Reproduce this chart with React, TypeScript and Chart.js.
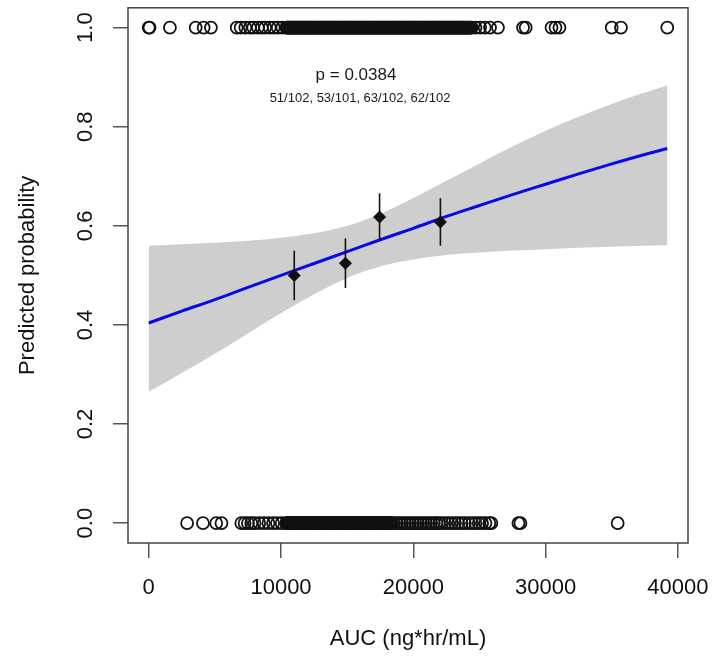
import React, { useEffect, useRef } from "react";
import { Chart, registerables } from "chart.js";

Chart.register(...registerables);

// Axis ticks
const xTicks = [0, 10000, 20000, 30000, 40000];
const yTicks = [0, 0.2, 0.4, 0.6, 0.8, 1.0];

// Fitted logistic curve (AUC -> predicted probability) with 95% band
const fitAuc = [0, 2500, 5000, 7500, 10000, 12500, 15000, 17500, 20000, 22500, 25000, 27500, 30000, 32500, 35000, 37500, 39200];
const fitProb = [0.404, 0.428, 0.451, 0.476, 0.5, 0.524, 0.548, 0.572, 0.595, 0.619, 0.641, 0.663, 0.684, 0.705, 0.725, 0.744, 0.756];
const ciUpper = [0.56, 0.563, 0.566, 0.57, 0.576, 0.585, 0.6, 0.624, 0.656, 0.691, 0.726, 0.76, 0.792, 0.82, 0.846, 0.869, 0.883];
const ciLower = [0.265, 0.303, 0.342, 0.383, 0.424, 0.462, 0.495, 0.518, 0.532, 0.541, 0.546, 0.55, 0.553, 0.556, 0.558, 0.56, 0.561];

// Quartile bins: mean AUC, responders / patients, standard error
const binAuc = [11000, 14870, 17450, 22050];
const binEvents = [51, 53, 63, 62];
const binTotals = [102, 101, 102, 102];
const binSE = [0.05, 0.05, 0.048, 0.048];

// Individual patients: outcome = 1
const respondersAuc = [
  0, 60, 1600, 3550, 4150, 4700,
  6650, 6950, 7300, 7650, 7900, 8250, 8550, 8800, 9150, 9450, 9750, 10100,
  10400, 10460, 10540, 10590, 10670, 10740, 10790, 10870, 10930,
  11010, 11060, 11140, 11220, 11270, 11350, 11410, 11480, 11560, 11610, 11690, 11770, 11820, 11900, 11960,
  12030, 12110, 12160, 12240, 12310, 12370, 12450, 12520, 12580, 12660, 12720, 12790, 12870, 12930,
  13000, 13080, 13140, 13210, 13290, 13350, 13420, 13500, 13560, 13630, 13710, 13770, 13840, 13920, 13980,
  14050, 14120, 14190, 14260, 14320, 14400, 14470, 14530, 14610, 14680, 14740, 14820, 14890, 14950,
  15030, 15100, 15160, 15240, 15310, 15370, 15450, 15520, 15580, 15660, 15730, 15790, 15870, 15940,
  16000, 16080, 16150, 16210, 16290, 16360, 16420, 16500, 16570, 16630, 16710, 16780, 16840, 16920, 16990,
  17050, 17130, 17200, 17260, 17340, 17410, 17470, 17550, 17620, 17680, 17760, 17830, 17890, 17970,
  18040, 18100, 18180, 18250, 18310, 18390, 18460, 18520, 18600, 18670, 18730, 18810, 18880, 18940,
  19020, 19090, 19150, 19230, 19300, 19360, 19440, 19510, 19570, 19650, 19720, 19780, 19860, 19930, 19990,
  20070, 20140, 20200, 20280, 20350, 20410, 20490, 20560, 20620, 20700, 20770, 20830, 20910, 20980,
  21040, 21120, 21190, 21250, 21330, 21400, 21460, 21540, 21610, 21670, 21750, 21820, 21880, 21960,
  22030, 22090, 22170, 22240, 22300, 22380, 22450, 22510, 22590, 22660, 22720, 22800, 22870, 22930,
  23010, 23080, 23140, 23220, 23290, 23350, 23430, 23500, 23560, 23640, 23710, 23770, 23850, 23920, 23980,
  24060, 24130, 24190, 24270, 24340, 24420,
  24700, 25050, 25400, 25800, 26400, 28300, 28500, 30450, 30750, 31050, 35000, 35700, 39200,
];

// Individual patients: outcome = 0
const nonRespondersAuc = [
  2900, 4100, 5100, 5500,
  7000, 7250, 7500, 7750, 8000, 8350, 8700, 9050, 9400, 9700, 10050,
  10400, 10450, 10520, 10580, 10650, 10710, 10770, 10840, 10900, 10960,
  11030, 11090, 11150, 11220, 11280, 11340, 11410, 11470, 11530, 11600, 11660, 11720, 11790, 11850, 11910, 11980,
  12040, 12100, 12170, 12230, 12290, 12360, 12420, 12480, 12550, 12610, 12670, 12740, 12800, 12860, 12930, 12990,
  13050, 13120, 13180, 13240, 13310, 13370, 13430, 13500, 13560, 13620, 13690, 13750, 13810, 13880, 13940,
  14000, 14070, 14130, 14190, 14260, 14320, 14380, 14450, 14510, 14570, 14640, 14700, 14760, 14830, 14890, 14950,
  15020, 15080, 15140, 15210, 15270, 15330, 15400, 15460, 15520, 15590, 15650, 15710, 15780, 15840, 15900, 15970,
  16030, 16090, 16160, 16220, 16280, 16350, 16410, 16470, 16540, 16600, 16660, 16730, 16790, 16850, 16920, 16980,
  17040, 17110, 17170, 17230, 17300, 17360, 17420, 17490, 17550, 17610, 17680, 17740, 17800, 17870, 17930, 17990,
  18060, 18120, 18180, 18250, 18310, 18370,
  18550, 18750, 18950, 19150, 19350, 19550, 19750, 19950, 20150, 20350, 20550, 20750, 20950, 21150,
  21350, 21550, 21750, 21950, 22150,
  22400, 22650, 22900, 23150, 23400, 23650, 23900, 24200, 24450, 24700, 24950, 25200, 25450, 25750, 25900,
  27950, 28100, 35450,
];

const pValueText = "p = 0.0384";
const xTitle = "AUC (ng*hr/mL)";
const yTitle = "Predicted probability";

const FONT = "'Liberation Sans', Arial, Helvetica, sans-serif";

const overlayPlugin = {
  id: "overlay",
  afterDatasetsDraw(chart: any) {
    const { ctx, chartArea: a, scales } = chart;
    const xs = scales.x;
    const ys = scales.y;
    ctx.save();
    // error bars (+/- 1 SE) for binned proportions
    ctx.strokeStyle = "#111";
    ctx.lineWidth = 1.6;
    binAuc.forEach((v, i) => {
      const p = binEvents[i] / binTotals[i];
      const px = xs.getPixelForValue(v);
      ctx.beginPath();
      ctx.moveTo(px, ys.getPixelForValue(p - binSE[i]));
      ctx.lineTo(px, ys.getPixelForValue(p + binSE[i]));
      ctx.stroke();
    });
    // plot frame
    ctx.strokeStyle = "#444";
    ctx.lineWidth = 1.5;
    ctx.strokeRect(a.left, a.top, a.right - a.left, a.bottom - a.top);
    ctx.restore();
  },
  afterDraw(chart: any) {
    const { ctx, chartArea: a, scales } = chart;
    const ys = scales.y;
    ctx.save();
    ctx.fillStyle = "#111";
    ctx.textAlign = "center";
    ctx.textBaseline = "middle";
    // y tick labels, parallel to the axis
    ctx.font = `22px ${FONT}`;
    yTicks.forEach((v) => {
      const py = ys.getPixelForValue(v);
      ctx.save();
      ctx.translate(86, py);
      ctx.rotate(-Math.PI / 2);
      ctx.fillText(v.toFixed(1), 0, 0);
      ctx.restore();
    });
    // axis titles
    ctx.save();
    ctx.translate(28, (a.top + a.bottom) / 2);
    ctx.rotate(-Math.PI / 2);
    ctx.fillText(yTitle, 0, 0);
    ctx.restore();
    ctx.fillText(xTitle, (a.left + a.right) / 2, 639);
    // annotation
    ctx.fillStyle = "#1a1a1a";
    ctx.font = `17px ${FONT}`;
    ctx.fillText(pValueText, 356, 75);
    ctx.font = `13px ${FONT}`;
    const counts = binEvents.map((e, i) => `${e}/${binTotals[i]}`).join(", ");
    ctx.fillText(counts, 360, 98);
    ctx.restore();
  },
};

export default function App() {
  const canvasRef = useRef<HTMLCanvasElement | null>(null);

  useEffect(() => {
    const canvas = canvasRef.current;
    if (!canvas) return;

    const toPts = (xsArr: number[], ysArr: number[]) => xsArr.map((x, i) => ({ x, y: ysArr[i] }));
    const rugStyle = {
      showLine: false,
      pointRadius: 6,
      pointBorderWidth: 1.8,
      pointBorderColor: "#111",
      pointBackgroundColor: "rgba(0,0,0,0)",
    };

    const chart = new Chart(canvas, {
      type: "line",
      data: {
        datasets: [
          { type: "line", label: "outcome 0", data: nonRespondersAuc.map((x) => ({ x, y: 0 })), ...rugStyle },
          { type: "line", label: "outcome 1", data: respondersAuc.map((x) => ({ x, y: 1 })), ...rugStyle },
          {
            type: "line",
            label: "bins",
            data: binAuc.map((x, i) => ({ x, y: binEvents[i] / binTotals[i] })),
            showLine: false,
            pointStyle: "rectRot",
            pointRadius: 6.5,
            pointBorderWidth: 0,
            pointBackgroundColor: "#111",
            pointBorderColor: "#111",
          },
          {
            type: "line",
            label: "fit",
            data: toPts(fitAuc, fitProb),
            borderColor: "#0a0ae6",
            borderWidth: 3,
            pointRadius: 0,
            cubicInterpolationMode: "monotone",
            fill: false,
          },
          {
            type: "line",
            label: "lower",
            data: toPts(fitAuc, ciLower),
            borderWidth: 0,
            borderColor: "rgba(0,0,0,0)",
            pointRadius: 0,
            cubicInterpolationMode: "monotone",
            fill: false,
          },
          {
            type: "line",
            label: "upper",
            data: toPts(fitAuc, ciUpper),
            borderWidth: 0,
            borderColor: "rgba(0,0,0,0)",
            backgroundColor: "#cecece",
            pointRadius: 0,
            cubicInterpolationMode: "monotone",
            fill: "-1",
          },
        ],
      },
      options: {
        animation: false,
        responsive: false,
        layout: { padding: { left: 0, top: 6, right: 28, bottom: 0 } },
        plugins: {
          legend: { display: false },
          tooltip: { enabled: false },
        },
        scales: {
          x: {
            type: "linear",
            min: -1568,
            max: 40768,
            afterBuildTicks: (s: any) => {
              s.ticks = xTicks.map((v) => ({ value: v }));
            },
            afterFit: (s: any) => {
              s.height = 123;
              s.paddingLeft = 0;
              s.paddingRight = 0;
            },
            grid: { drawOnChartArea: false, drawTicks: true, tickLength: 15, color: "#555", lineWidth: 1.5 },
            border: { display: false },
            ticks: {
              autoSkip: false,
              maxRotation: 0,
              padding: 17,
              color: "#111",
              font: { family: FONT, size: 22 },
              callback: (v: any) => String(v),
            },
          },
          y: {
            type: "linear",
            min: -0.04,
            max: 1.04,
            afterBuildTicks: (s: any) => {
              s.ticks = yTicks.map((v) => ({ value: v }));
            },
            afterFit: (s: any) => {
              s.width = 128;
              s.paddingTop = 0;
              s.paddingBottom = 0;
            },
            grid: { drawOnChartArea: false, drawTicks: true, tickLength: 15, color: "#555", lineWidth: 1.5 },
            border: { display: false },
            ticks: {
              autoSkip: false,
              color: "rgba(0,0,0,0)",
              font: { family: FONT, size: 22 },
              callback: (v: any) => Number(v).toFixed(1),
            },
          },
        },
      },
      plugins: [overlayPlugin],
    } as any);

    return () => chart.destroy();
  }, []);

  return (
    <div style={{ position: "absolute", left: 0, top: 0, width: 716, height: 666, background: "#fff" }}>
      <canvas ref={canvasRef} width={716} height={666} style={{ display: "block" }} />
    </div>
  );
}
